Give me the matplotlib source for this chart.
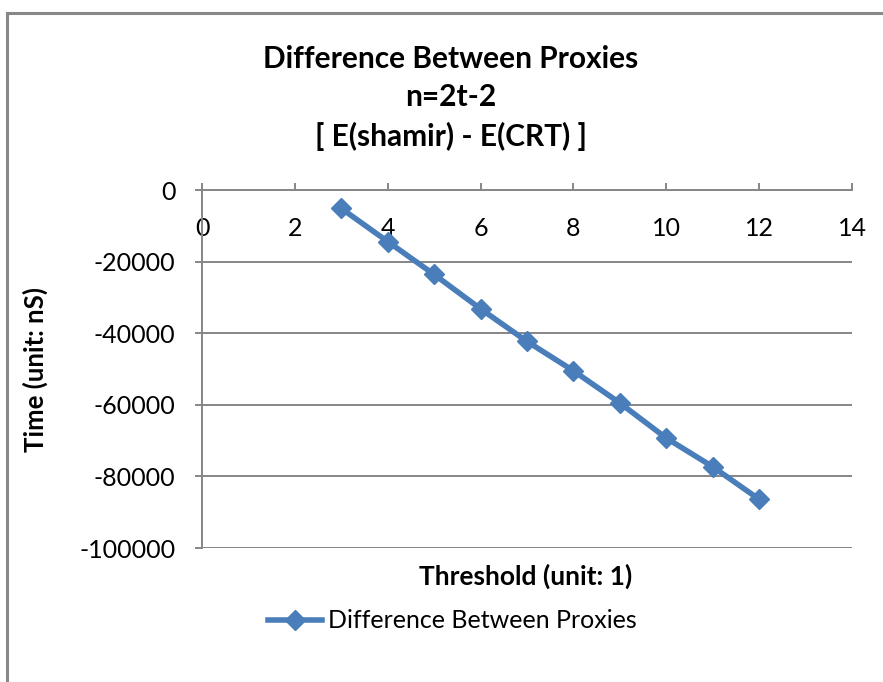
import matplotlib
matplotlib.use("Agg")
import matplotlib.pyplot as plt
from matplotlib.lines import Line2D

threshold = [3, 4, 5, 6, 7, 8, 9, 10, 11, 12]
difference = [-5150, -14400, -23600, -33200, -42300, -50500, -59500, -69300, -77300, -86400]
xticks = [0, 2, 4, 6, 8, 10, 12, 14]
yticks = [0, -20000, -40000, -60000, -80000, -100000]
series_name = "Difference Between Proxies"
title_lines = ["Difference Between Proxies", "n=2t-2", "[ E(shamir) - E(CRT) ]"]

plt.rcParams['font.family'] = ['Lato', 'DejaVu Sans']

W, H = 883, 682
fig = plt.figure(figsize=(W / 100, H / 100), dpi=100)

# outer chart border (top & left visible)
fig.add_artist(Line2D([7.5 / W, 7.5 / W], [0, 1 - 12.5 / H], color='#888888', lw=2.2,
                      transform=fig.transFigure))
fig.add_artist(Line2D([7.5 / W, 1], [1 - 12.5 / H, 1 - 12.5 / H], color='#888888', lw=2.2,
                      transform=fig.transFigure))

ax = fig.add_axes([202 / W, 1 - 548 / H, (852 - 202) / W, (548 - 190) / H])
blue = '#4A7EBB'
ax.plot(threshold, difference, color=blue, lw=4.0, marker='D', markersize=10,
        markerfacecolor=blue, markeredgecolor=blue, zorder=3)

ax.set_xlim(0, 14)
ax.set_ylim(-100000, 0)
ax.set_xticks(xticks)
ax.set_yticks(yticks)
ax.set_yticklabels([str(v) for v in yticks], fontsize=18)
ax.set_xticklabels([str(v) for v in xticks], fontsize=18)

ax.grid(axis='y', color='#868686', lw=1.4)
ax.set_axisbelow(True)
for s in ['right', 'bottom']:
    ax.spines[s].set_visible(False)
ax.spines['top'].set_color('#868686')
ax.spines['top'].set_linewidth(1.4)
ax.spines['left'].set_color('#868686')
ax.spines['left'].set_linewidth(1.4)

# x axis at top (y=0) with labels below the line, ticks outward (up)
ax.xaxis.set_ticks_position('top')
ax.tick_params(axis='x', direction='out', length=5, color='#868686', width=1.4,
               labeltop=True, labelbottom=False, pad=-41)
ax.tick_params(axis='y', direction='out', length=5, color='#868686', width=1.4, pad=14)

fig.text(526 / W, 1 - 576 / H, "Threshold (unit: 1)", ha='center', va='center',
         fontsize=19, fontweight='bold')
fig.text(35 / W, 1 - 370 / H, "Time (unit: nS)", ha='center', va='center',
         rotation=90, fontsize=18.5, fontweight='bold')

for i, t in enumerate(title_lines):
    fig.text(451 / W, 1 - (59 + 38.5 * i) / H, t, ha='center', va='center',
             fontsize=21.5, fontweight='bold')

# legend
lx0, lx1, ly = 268 / W, 322 / W, 1 - 620 / H
fig.add_artist(Line2D([lx0, lx1], [ly, ly], color=blue, lw=4.0, transform=fig.transFigure))
fig.add_artist(Line2D([(lx0 + lx1) / 2], [ly], color=blue, marker='D', markersize=10,
                      transform=fig.transFigure))
fig.text(328 / W, ly, series_name, ha='left', va='center', fontsize=18)

fig.savefig("out.png", dpi=100)
